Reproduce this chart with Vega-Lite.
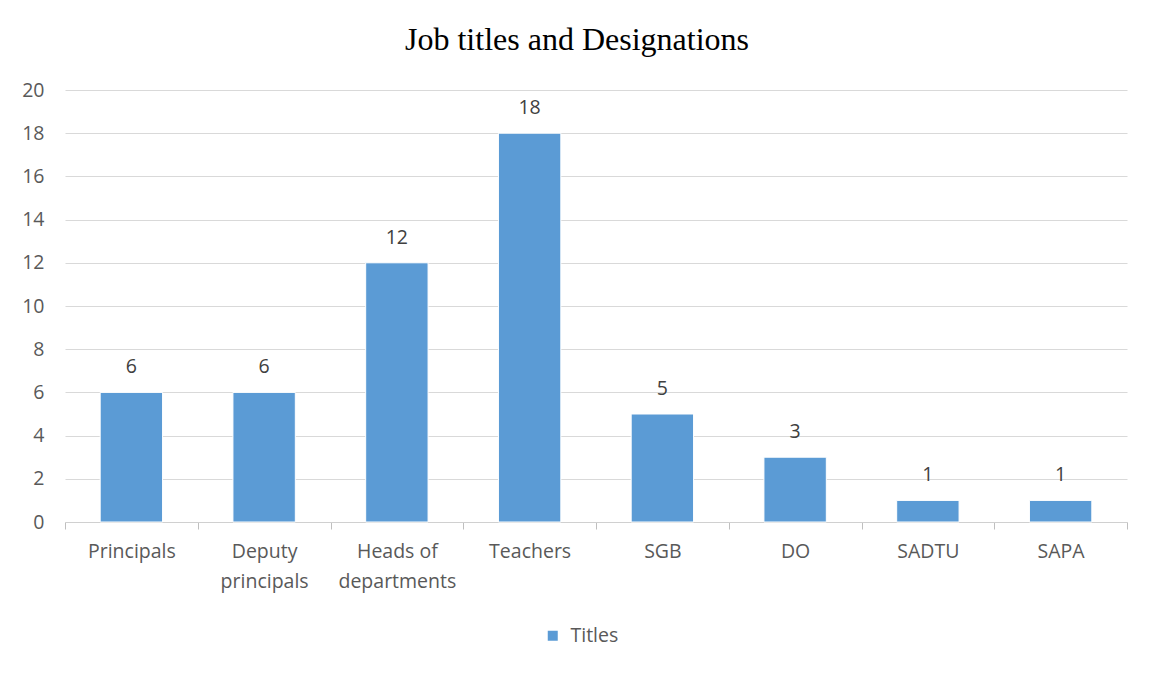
{
  "$schema": "https://vega.github.io/schema/vega-lite/v6.json",
  "autosize": "none",
  "width": 1062,
  "height": 432,
  "padding": {"left": 65, "top": 90, "right": 28, "bottom": 154},
  "background": "white",
  "title": {
    "text": "Job titles and Designations",
    "font": "Liberation Serif",
    "fontSize": 32,
    "fontWeight": "normal",
    "color": "#000000",
    "anchor": "middle",
    "frame": "group",
    "dx": -19,
    "offset": 23
  },
  "data": {
    "values": [
      {"category": "Principals", "value": 6, "series": "Titles"},
      {"category": "Deputy principals", "value": 6, "series": "Titles"},
      {"category": "Heads of departments", "value": 12, "series": "Titles"},
      {"category": "Teachers", "value": 18, "series": "Titles"},
      {"category": "SGB", "value": 5, "series": "Titles"},
      {"category": "DO", "value": 3, "series": "Titles"},
      {"category": "SADTU", "value": 1, "series": "Titles"},
      {"category": "SAPA", "value": 1, "series": "Titles"}
    ]
  },
  "encoding": {
    "x": {
      "field": "category",
      "type": "nominal",
      "sort": null,
      "title": null,
      "scale": {"paddingInner": 0, "paddingOuter": 0},
      "axis": {
        "labelAngle": 0,
        "labelFont": "Open Sans",
        "labelFontSize": 19.5,
        "labelColor": "#595959",
        "labelPadding": 13,
        "labelLineHeight": 30,
        "labelBaseline": "top",
        "ticks": true,
        "tickBand": "extent",
        "tickColor": "#bfbfbf",
        "tickSize": 7,
        "tickWidth": 1,
        "domainColor": "#d0d0d0",
        "domainWidth": 1,
        "grid": false,
        "labelExpr": "datum.label == 'Deputy principals' ? ['Deputy', 'principals'] : datum.label == 'Heads of departments' ? ['Heads of', 'departments'] : datum.label"
      }
    },
    "y": {
      "field": "value",
      "type": "quantitative",
      "title": null,
      "scale": {"domain": [0, 20], "nice": false},
      "axis": {
        "values": [0, 2, 4, 6, 8, 10, 12, 14, 16, 18, 20],
        "labelFont": "Open Sans",
        "labelFontSize": 19.5,
        "labelColor": "#595959",
        "labelPadding": 21,
        "domain": false,
        "ticks": false,
        "gridColor": "#d9d9d9",
        "gridWidth": 1
      }
    }
  },
  "layer": [
    {
      "mark": {"type": "bar", "stroke": "white", "strokeWidth": 1, "width": {"band": 0.47}},
      "encoding": {
        "color": {
          "field": "series",
          "type": "nominal",
          "scale": {"range": ["#5b9bd5"]},
          "legend": {
            "title": null,
            "orient": "none",
            "legendX": 478,
            "legendY": 536,
            "symbolType": "square",
            "symbolSize": 100,
            "symbolStrokeWidth": 0,
            "labelFont": "Open Sans",
            "labelFontSize": 19.5,
            "labelColor": "#595959",
            "labelOffset": 8
          }
        }
      }
    },
    {
      "mark": {
        "type": "text",
        "dy": -19,
        "baseline": "alphabetic",
        "font": "Open Sans",
        "fontSize": 19.5,
        "color": "#404040"
      },
      "encoding": {"text": {"field": "value", "type": "quantitative"}}
    }
  ],
  "config": {"view": {"stroke": null}}
}
